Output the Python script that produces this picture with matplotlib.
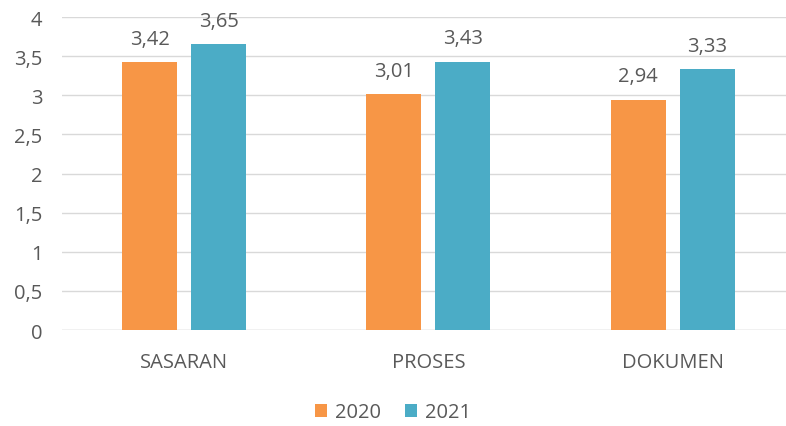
import matplotlib
matplotlib.use("Agg")
import matplotlib.pyplot as plt
import numpy as np

categories = ["SASARAN", "PROSES", "DOKUMEN"]
series_names = ["2020", "2021"]
values_2020 = [3.42, 3.01, 2.94]
values_2021 = [3.65, 3.43, 3.33]
value_labels_2020 = ["3,42", "3,01", "2,94"]
value_labels_2021 = ["3,65", "3,43", "3,33"]
yticks = [0, 0.5, 1, 1.5, 2, 2.5, 3, 3.5, 4]
ytick_labels = ["0", "0,5", "1", "1,5", "2", "2,5", "3", "3,5", "4"]

plt.rcParams['font.family'] = ['Open Sans', 'DejaVu Sans']
txt = '#595959'
c1, c2 = '#F79646', '#4BACC6'
fs = 14.5

fig = plt.figure(figsize=(7.86, 4.27), dpi=100)
ax = fig.add_axes([62/786, 0.2248, 732.75/786, 0.733])
x = np.arange(len(categories))
w = 55/244.25
off = 34.5/244.25
b1 = ax.bar(x - off, values_2020, w, color=c1, label=series_names[0], zorder=3)
b2 = ax.bar(x + off, values_2021, w, color=c2, label=series_names[1], zorder=3)
for bars, labs in ((b1, value_labels_2020), (b2, value_labels_2021)):
    for r, l in zip(bars, labs):
        ax.annotate(l, (r.get_x() + r.get_width() / 2, r.get_height()),
                    xytext=(0, 10), textcoords='offset points', ha='center', va='bottom',
                    fontsize=fs, color=txt, annotation_clip=False)
ax.set_xlim(-0.5, 2.5)
ax.set_ylim(0, 4)
ax.set_yticks(yticks)
ax.set_yticklabels(ytick_labels)
ax.set_xticks(x)
ax.set_xticklabels(categories)
ax.tick_params(axis='both', length=0, labelsize=fs, colors=txt)
ax.tick_params(axis='y', pad=14)
ax.tick_params(axis='x', pad=16)
ax.grid(axis='y', color='#D9D9D9', linewidth=1, zorder=0)
for s in ax.spines.values():
    s.set_visible(False)
ax.axhline(0, color='#D9D9D9', linewidth=1, zorder=2)
leg = fig.legend(handles=[b1, b2], labels=series_names, loc='center', bbox_to_anchor=(0.5, 0.032),
                 ncol=2, frameon=False, fontsize=fs, handlelength=0.6, handleheight=0.6,
                 handletextpad=0.4, columnspacing=1.2)
for t in leg.get_texts():
    t.set_color(txt)
fig.savefig("out.png", dpi=100)
